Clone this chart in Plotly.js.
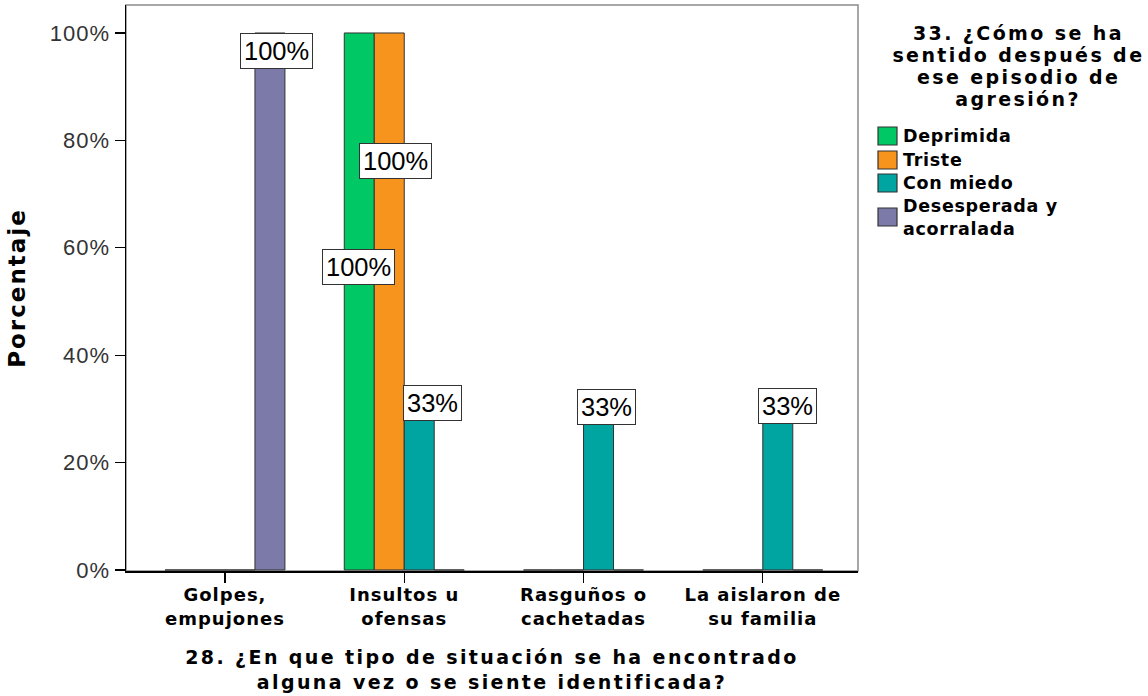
<!DOCTYPE html>
<html><head><meta charset="utf-8">
<script src="https://cdn.plot.ly/plotly-3.0.1.min.js"></script>
<style>
html,body{margin:0;padding:0;background:#fff;}
#chart{width:1148px;height:696px;}
.xtick text{letter-spacing:1px;}
.ytick text{letter-spacing:1px;}
.xtitle{letter-spacing:2.4px;}
.ytitle{letter-spacing:2px;}
</style></head><body><div id="chart"></div>
<script>
// ---------- DATA ----------
const categories = ['Golpes, empujones', 'Insultos u ofensas', 'Rasguños o cachetadas', 'La aislaron de su familia'];
const tickLabels = ['Golpes,<br>empujones', 'Insultos u<br>ofensas', 'Rasguños o<br>cachetadas', 'La aislaron de<br>su familia'];
const seriesNames = ['Deprimida', 'Triste', 'Con miedo', 'Desesperada y acorralada'];
const legendLabels = ['Deprimida', 'Triste', 'Con miedo', 'Desesperada y<br>acorralada'];
const deprimida   = [0, 100, 0, 0];
const triste      = [0, 100, 0, 0];
const conMiedo    = [0, 33.3, 33.3, 33.3];
const desesperada = [100, 0, 0, 0];
const yTickVals = [0, 20, 40, 60, 80, 100];
const yTickText = ['0%', '20%', '40%', '60%', '80%', '100%'];
const xTitle = '28. ¿En que tipo de situación se ha encontrado<br>alguna vez o se siente identificada?';
const yTitle = 'Porcentaje';
const legendTitleLines = ['33. ¿Cómo se ha', 'sentido después de', 'ese episodio de', 'agresión?'];

// ---------- STYLE ----------
const seriesValues = [deprimida, triste, conMiedo, desesperada];
const colors = ['#00c864', '#f7941e', '#00a4a0', '#7b7aa8'];
const FONT = 'Liberation Sans, Arial, sans-serif';
const BFONT = 'DejaVu Sans, Verdana, sans-serif';
// label nudges (px) relative to category centre / value, key = series-category
const labelNudges = {
  '3-0': {dx: 52, dy: 0},
  '0-1': {dx: -46, dy: -216},
  '1-1': {dx: -9, dy: -110},
  '2-1': {dx: 28, dy: 6},
  '2-2': {dx: 23, dy: 2},
  '2-3': {dx: 25, dy: 3}
};

const M = {l: 126, r: 290, t: 5, b: 125};
const W = 1148, H = 696;
const PW = W - M.l - M.r, PH = H - M.t - M.b;
const px = x => (x - M.l) / PW;
const py = y => (H - M.b - y) / PH;

const traces = seriesValues.map((vals, i) => ({
  type: 'bar', name: seriesNames[i], x: categories, y: vals,
  marker: {color: colors[i], line: {color: '#333', width: 1}},
  showlegend: false, hoverinfo: 'skip'
}));

const annotations = [];
seriesValues.forEach((vals, s) => {
  vals.forEach((v, c) => {
    if (v > 0) {
      const n = labelNudges[s + '-' + c] || {dx: 0, dy: 0};
      annotations.push({
        x: categories[c], y: v, xref: 'x', yref: 'y',
        xanchor: 'center', yanchor: 'top', xshift: n.dx, yshift: n.dy,
        text: Math.round(v) + '%', showarrow: false,
        font: {family: FONT, size: 25.5, color: '#000'},
        bgcolor: '#fff', bordercolor: '#333', borderwidth: 1, borderpad: 3
      });
    }
  });
});
const nLabelAnn = annotations.length;

// legend title
const titleY = [33, 55, 77, 99];
legendTitleLines.forEach((t, i) => {
  annotations.push({
    x: px(1018), y: py(titleY[i]), xref: 'paper', yref: 'paper',
    xanchor: 'center', yanchor: 'middle', text: t, showarrow: false,
    font: {family: BFONT, size: 19, weight: 'bold', color: '#000'}
  });
});
const nTitleEnd = annotations.length;
// legend items
const itemY = [136, 160, 183, 217];
const shapes = [{
  type: 'rect', xref: 'paper', yref: 'paper', x0: 0, x1: 1, y0: 0, y1: 1,
  line: {color: '#8a8a8a', width: 1.5}, layer: 'below'
}];
legendLabels.forEach((t, i) => {
  shapes.push({
    type: 'rect', xref: 'paper', yref: 'paper',
    x0: px(878), x1: px(897), y0: py(itemY[i] + 9), y1: py(itemY[i] - 9),
    fillcolor: colors[i], line: {color: '#333', width: 1.2}
  });
  annotations.push({
    x: px(901), y: py(itemY[i]), xref: 'paper', yref: 'paper',
    xanchor: 'left', yanchor: 'middle', align: 'left', text: t, showarrow: false,
    font: {family: BFONT, size: 17.5, weight: 'bold', color: '#000'}
  });
});

const layout = {
  width: W, height: H, margin: M,
  paper_bgcolor: '#fff', plot_bgcolor: '#fff',
  barmode: 'group', bargap: 0.331, bargroupgap: 0,
  showlegend: false,
  xaxis: {
    type: 'category', range: [-0.552, 3.531], tickvals: categories, ticktext: tickLabels,
    ticks: 'outside', ticklen: 10, tickcolor: '#000', tickwidth: 1.2, tickangle: 0,
    ticklabelstandoff: -3,
    showline: true, linecolor: '#000', linewidth: 1.5, showgrid: false, zeroline: false,
    tickfont: {family: BFONT, size: 18, weight: 'bold', color: '#000'},
    title: {text: xTitle, standoff: 23, font: {family: BFONT, size: 19, weight: 'bold', color: '#000'}}
  },
  yaxis: {
    range: [-0.19, 105.21], tickvals: yTickVals, ticktext: yTickText,
    ticks: 'outside', ticklen: 10, tickcolor: '#000', tickwidth: 1.2,
    showline: true, linecolor: '#000', linewidth: 1.5, showgrid: false, zeroline: false,
    tickfont: {family: FONT, size: 22, color: '#333'},
    title: {text: yTitle, standoff: 18, font: {family: BFONT, size: 23, weight: 'bold', color: '#000'}}
  },
  shapes: shapes,
  annotations: annotations
};

Plotly.newPlot('chart', traces, layout, {staticPlot: true, displayModeBar: false}).then(gd => {
  gd.querySelectorAll('.annotation').forEach(el => {
    const idx = +el.getAttribute('data-index');
    const t = el.querySelector('text');
    if (!t) return;
    if (idx >= nLabelAnn && idx < nTitleEnd) t.style.letterSpacing = '2.4px';
    else if (idx >= nTitleEnd) t.style.letterSpacing = '0.7px';
  });
});
</script></body></html>
